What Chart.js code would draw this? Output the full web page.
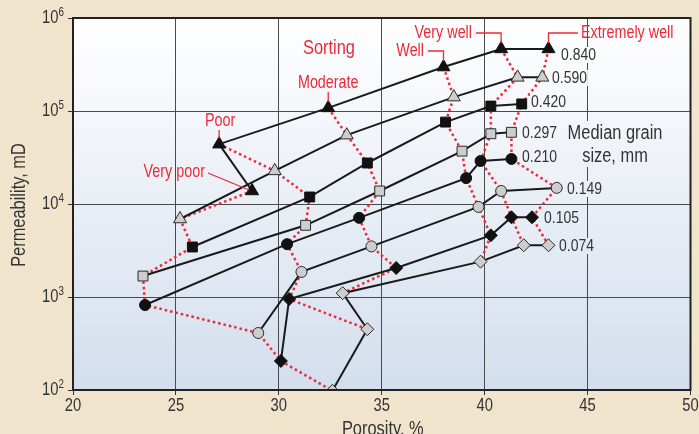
<!DOCTYPE html>
<html>
<head>
<meta charset="utf-8">
<script src="https://cdn.jsdelivr.net/npm/chart.js@4.4.0/dist/chart.umd.min.js"></script>
<style>
  html, body { margin: 0; padding: 0; background: #f1e4cc; }
  canvas { display: block; }
</style>
</head>
<body>
<canvas id="myChart" width="699" height="434"></canvas>
<script>
// Données (ordre : Extremely well, Very well, Well, Moderate, Poor, Very poor)
const grainSizes = ["0.840", "0.590", "0.420", "0.297", "0.210", "0.149", "0.105", "0.074"];
const sortingClasses = ["Extremely well", "Very well", "Well", "Moderate", "Poor", "Very poor"];

const poro840 = [43.1, 40.8, 38.0, 32.4, 27.1, 28.7];
const perm840 = [465000, 465000, 297000, 108000, 44000, 13800];
const poro590 = [42.8, 41.6, 38.5, 33.3, 29.8, 25.2];
const perm590 = [230000, 230000, 141000, 55000, 22700, 6900];
const poro420 = [41.8, 40.3, 38.1, 34.3, 31.5, 25.8];
const perm420 = [119000, 113000, 76000, 27600, 11900, 3450];
const poro297 = [41.3, 40.3, 38.9, 34.9, 31.3, 23.4];
const perm297 = [59000, 57000, 37000, 13800, 5900, 1680];
const poro210 = [41.3, 39.8, 39.1, 33.9, 30.4, 23.5];
const perm210 = [30500, 29000, 19000, 7100, 3700, 820];
const poro149 = [43.5, 40.8, 39.7, 34.5, 31.1, 29.0];
const perm149 = [14900, 13800, 9300, 3500, 1860, 410];
const poro105 = [42.3, 41.3, 40.3, 35.7, 30.5, 30.1];
const perm105 = [7200, 7200, 4600, 2050, 950, 205];
const poro074 = [43.1, 41.9, 39.8, 33.1, 34.3, 32.6];
const perm074 = [3600, 3600, 2400, 1100, 450, 98];

const xTicks = [20, 25, 30, 35, 40, 45, 50];
const yTicks = [100, 1000, 10000, 100000, 1000000];

const porosity = [poro840, poro590, poro420, poro297, poro210, poro149, poro105, poro074];
const permeability = [perm840, perm590, perm420, perm297, perm210, perm149, perm105, perm074];
const markerStyle = ["triangle", "triangle", "rect", "rect", "circle", "circle", "rectRot", "rectRot"];
const markerSize = [7.5, 7.5, 7, 7, 5.5, 5.5, 6.5, 6.5];

const FONT = "'Liberation Sans', Arial, sans-serif";
const RED = "#ec2a38";
const TXT = "#333333";
const SQUEEZE = 0.82; // la police d'origine est étroite

// Courbes de tri (pointillés rouges) : un point par taille de grain
const sortingSets = sortingClasses.map((name, s) => ({
  label: name,
  data: grainSizes.map((g, i) => ({ x: porosity[i][s], y: permeability[i][s] })),
  borderColor: RED,
  borderWidth: 2.5,
  borderDash: [2.5, 3],
  pointRadius: 0,
  fill: false,
  order: 2,
}));

// Courbes par taille de grain (traits noirs + marqueurs)
const grainSets = grainSizes.map((g, i) => {
  const dark = i % 2 === 0;
  return {
    label: g,
    data: sortingClasses.map((n, s) => ({ x: porosity[i][s], y: permeability[i][s] })),
    borderColor: "#1a1a1a",
    borderWidth: 2,
    pointStyle: markerStyle[i],
    pointRadius: markerSize[i],
    pointBackgroundColor: dark ? "#111111" : "#cdcdcd",
    pointBorderColor: dark ? "#111111" : "#2a2a2a",
    pointBorderWidth: 1,
    fill: false,
    order: 1,
  };
});

const grainLabels = [
  { t: "0.840", x: 561, y: 55 },
  { t: "0.590", x: 552, y: 78 },
  { t: "0.420", x: 531, y: 102 },
  { t: "0.297", x: 522, y: 133 },
  { t: "0.210", x: 522, y: 157 },
  { t: "0.149", x: 567, y: 189 },
  { t: "0.105", x: 544, y: 218 },
  { t: "0.074", x: 559, y: 246 },
];

// texte condensé horizontalement
function txt(ctx, s, x, y, size, align, base) {
  ctx.save();
  ctx.translate(x, y);
  ctx.scale(SQUEEZE, 1);
  ctx.font = size + "px " + FONT;
  ctx.textAlign = align || "left";
  ctx.textBaseline = base || "middle";
  ctx.fillText(s, 0, 0);
  ctx.restore();
}
function txtWidth(ctx, s, size) {
  ctx.save();
  ctx.font = size + "px " + FONT;
  const w = ctx.measureText(s).width * SQUEEZE;
  ctx.restore();
  return w;
}

const decor = {
  id: "decor",
  beforeDraw(chart) {
    const { ctx, chartArea: a } = chart;
    ctx.save();
    ctx.fillStyle = "#f1e4cc";
    ctx.fillRect(0, 0, chart.width, chart.height);
    const grad = ctx.createLinearGradient(0, a.top, 0, a.bottom);
    grad.addColorStop(0, "#ffffff");
    grad.addColorStop(1, "#d3deed");
    chart.$grad = grad;
    ctx.fillStyle = grad;
    ctx.fillRect(a.left, a.top, a.right - a.left, a.bottom - a.top);
    ctx.restore();
  },
  afterDraw(chart) {
    const { ctx, chartArea: a } = chart;
    const xs = chart.scales.x, ys = chart.scales.y;
    ctx.save();
    // cadre
    ctx.strokeStyle = "#222";
    ctx.lineWidth = 2;
    ctx.strokeRect(a.left, a.top, a.right - a.left, a.bottom - a.top);

    // graduations
    ctx.fillStyle = TXT;
    xTicks.forEach(v => txt(ctx, String(v), xs.getPixelForValue(v), a.bottom + 16, 18, "center"));
    yTicks.forEach(v => {
      const py = ys.getPixelForValue(v);
      const e = String(Math.round(Math.log10(v)));
      const wSup = txtWidth(ctx, e, 12);
      txt(ctx, e, a.left - 9, py - 5, 12, "right");
      txt(ctx, "10", a.left - 9 - wSup, py, 18, "right");
    });

    // titres des axes
    txt(ctx, "Porosity, %", (a.left + a.right) / 2 + 1, 435, 20, "center", "alphabetic");
    ctx.save();
    ctx.translate(19, 205);
    ctx.rotate(-Math.PI / 2);
    txt(ctx, "Permeability, mD", 0, 0, 20, "center");
    ctx.restore();

    // étiquettes des tailles de grain
    grainLabels.forEach(l => {
      const w = txtWidth(ctx, l.t, 17);
      ctx.fillStyle = chart.$grad;
      ctx.fillRect(l.x - 1, l.y - 8, w + 2, 16);
      ctx.fillStyle = TXT;
      txt(ctx, l.t, l.x, l.y, 17, "left");
    });
    ctx.fillStyle = chart.$grad;
    ctx.fillRect(566, 121, 98, 46);
    ctx.fillStyle = TXT;
    txt(ctx, "Median grain", 615, 133, 20, "center");
    txt(ctx, "size, mm", 615, 156, 20, "center");

    // annotations de tri
    const pt = (i, s) => ({ x: xs.getPixelForValue(porosity[i][s]), y: ys.getPixelForValue(permeability[i][s]) });
    ctx.fillStyle = RED;
    ctx.strokeStyle = RED;
    ctx.lineWidth = 1.3;
    txt(ctx, "Sorting", 329, 48, 20, "center");
    const F = 17.5;

    let p = pt(0, 3);
    txt(ctx, "Moderate", p.x, 83, F, "center");
    ctx.beginPath(); ctx.moveTo(p.x, 92); ctx.lineTo(p.x, p.y - 6); ctx.stroke();

    p = pt(0, 4);
    txt(ctx, "Poor", p.x + 1, 121, F, "center");
    ctx.beginPath(); ctx.moveTo(p.x, 130); ctx.lineTo(p.x, p.y - 6); ctx.stroke();

    p = pt(0, 5);
    txt(ctx, "Very poor", 205, 172, F, "right");
    ctx.beginPath(); ctx.moveTo(208, 173); ctx.lineTo(p.x - 3, p.y - 1); ctx.stroke();

    p = pt(0, 2);
    txt(ctx, "Well", 424, 51, F, "right");
    ctx.beginPath(); ctx.moveTo(428, 51); ctx.lineTo(p.x, 51); ctx.lineTo(p.x, p.y - 6); ctx.stroke();

    p = pt(0, 1);
    txt(ctx, "Very well", 472, 33, F, "right");
    ctx.beginPath(); ctx.moveTo(476, 33); ctx.lineTo(p.x, 33); ctx.lineTo(p.x, p.y - 6); ctx.stroke();

    p = pt(0, 0);
    txt(ctx, "Extremely well", 581, 33, F, "left");
    ctx.beginPath(); ctx.moveTo(578, 33); ctx.lineTo(p.x, 33); ctx.lineTo(p.x, p.y - 6); ctx.stroke();

    ctx.restore();
  },
};

const ctx = document.getElementById("myChart");
const chart = new Chart(ctx, {
  type: "line",
  data: { datasets: [...grainSets, ...sortingSets] },
  options: {
    responsive: false,
    animation: false,
    devicePixelRatio: 1,
    layout: { padding: { top: 18, right: 7, left: 0, bottom: 0 } },
    plugins: { legend: { display: false }, tooltip: { enabled: false } },
    elements: { line: { tension: 0 } },
    scales: {
      x: {
        type: "linear",
        min: 20,
        max: 50,
        afterBuildTicks: s => { s.ticks = xTicks.map(v => ({ value: v })); },
        afterFit: s => { s.height = 44; },
        ticks: { display: false },
        grid: { color: "#4a4a4a", lineWidth: 1, drawTicks: true, tickLength: 5, tickColor: "#333" },
        border: { color: "#222", width: 2 },
      },
      y: {
        type: "logarithmic",
        min: 100,
        max: 1000000,
        afterBuildTicks: s => { s.ticks = yTicks.map(v => ({ value: v })); },
        afterFit: s => { s.width = 73; },
        ticks: { display: false },
        grid: { color: "#4a4a4a", lineWidth: 1, drawTicks: true, tickLength: 5, tickColor: "#333" },
        border: { color: "#222", width: 2 },
      },
    },
  },
  plugins: [decor],
});
</script>
</body>
</html>
